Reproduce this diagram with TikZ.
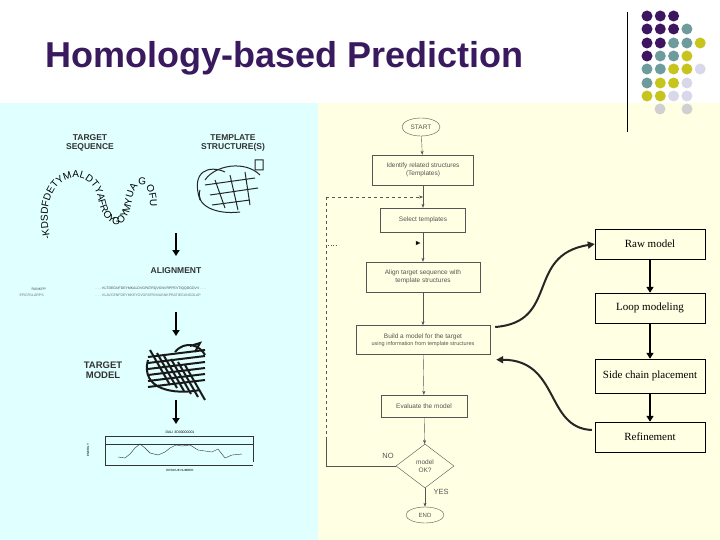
\documentclass[tikz,border=0pt]{standalone}
\usepackage{fontspec}
\setmainfont{Liberation Sans}
\newfontfamily\seriff{Liberation Serif}
\usetikzlibrary{shapes.geometric,arrows.meta,decorations.text}
\definecolor{cyanbg}{HTML}{E0FFFF}
\definecolor{yelbg}{HTML}{FFFFE3}
\definecolor{dP}{HTML}{3D1560}
\definecolor{dT}{HTML}{6E9C9C}
\definecolor{dY}{HTML}{C8C41E}
\definecolor{dL}{HTML}{D8D8EA}
\definecolor{dG}{HTML}{D0D0D0}
\definecolor{ttl}{HTML}{3A1A5E}
\definecolor{fl}{HTML}{555555}
\begin{document}
\begin{tikzpicture}[x=1pt,y=-1pt,
  fbox/.style={draw=fl,fill=yelbg,font=\fontsize{6.5}{7.5}\selectfont,text=fl,align=center,inner sep=2pt},
  rbox/.style={draw=black,fill=yelbg,minimum width=110pt,minimum height=30pt,font=\seriff\fontsize{11}{12}\selectfont},
  fl/.style={draw=fl,-{Stealth[length=4pt]}},
  bigar/.style={-{Triangle[length=6pt,width=7pt]},line width=2.5pt,draw=black},
  curv/.style={-{Triangle[length=7pt,width=7pt]},line width=2pt,draw=black!85},
  lab/.style={font=\bfseries\fontsize{8.5}{9.5}\selectfont,align=center,text=black!80}]
\useasboundingbox (0,0) rectangle (720,540);
\fill[white] (0,0) rectangle (720,540);
\fill[cyanbg] (0,103) rectangle (318,540);
\fill[yelbg] (318,103) rectangle (720,540);
\node[font=\bfseries\fontsize{36}{40}\selectfont,text=ttl,anchor=west] (title) at (42,58) {Homology-based Prediction};
\draw[black,line width=0.8pt] (627,12) -- (627,132);
% dots
\foreach \r/\cols in {16/{P,P,P},29/{P,P,P,T},43/{P,P,T,T,Y},56/{P,T,T,Y},69/{T,T,Y,Y,L},83/{T,Y,Y,L},96/{Y,Y,L,L}}{
  \foreach \c [count=\i from 0] in \cols {\fill[d\c] (647+13.3*\i,\r) circle (5.5pt);}}
\fill[dG] (660,109) circle (5.5pt); \fill[dG] (687,109) circle (5.5pt);
% flowchart
\node[ellipse,draw=fl,fill=yelbg,minimum width=38pt,minimum height=18pt,inner sep=0pt,font=\fontsize{6.5}{7}\selectfont,text=fl] (start) at (421,127) {START};
\node[fbox,minimum width=101pt,minimum height=30pt] (ident) at (423,170) {Identify related structures\\(Templates)};
\node[fbox,minimum width=85pt,minimum height=24pt] (sel) at (423,220) {Select templates};
\node[fbox,minimum width=114pt,minimum height=30pt] (align) at (423,277) {Align target sequence with\\template structures};
\node[fbox,minimum width=134pt,minimum height=29pt] (build) at (423,340) {Build a model for the target\\{\fontsize{5.5}{6.5}\selectfont using information from template structures}};
\node[fbox,minimum width=86pt,minimum height=22pt] (eval) at (424,406) {Evaluate the model};
\node[diamond,draw=fl,fill=yelbg,minimum width=58pt,minimum height=44pt,inner sep=0pt,align=center,font=\fontsize{6.5}{7.5}\selectfont,text=fl] (ok) at (425,466) {model\\OK?};
\node[ellipse,draw=fl,fill=yelbg,minimum width=38pt,minimum height=16pt,inner sep=0pt,font=\fontsize{6}{7}\selectfont,text=fl] (endn) at (425,515) {END};
\draw[fl] (start) -- (ident);
\draw[fl] (ident) -- (sel);
\draw[fl] (sel) -- (align);
\draw[fl] (align) -- (build);
\draw[fl] (build) -- (eval);
\draw[fl] (eval) -- (ok);
\draw[fl] (ok) -- (endn);
\coordinate (c1) at (326,466); \coordinate (c2) at (326,197); \coordinate (c3) at (423,197);
\coordinate (d1) at (326,245); \coordinate (d2) at (336,245);
\draw[draw=fl,line width=0.8pt] (ok.west) -- (c1) -- (326,440);
\draw[draw=fl,dashed] (326,440) -- (c2);
\draw[draw=fl,dashed,-{Stealth[length=4pt]}] (c2) -- (c3);
\draw[draw=fl,dotted] (d1) -- (d2);
\fill[fl] (416,241) -- (420,243) -- (416,245) -- cycle;
\node[font=\fontsize{7.5}{8}\selectfont,text=fl] (no) at (388,456) {NO};
\node[font=\fontsize{7.5}{8}\selectfont,text=fl] (yes) at (441,492) {YES};
% right column
\node[rbox] (raw) at (650,244) {Raw model};
\node[rbox] (loop) at (650,308) {Loop modeling};
\node[rbox,minimum height=34pt] (side) at (650,376) {Side chain placement};
\node[rbox] (ref) at (650,437) {Refinement};
\draw[bigar] (raw) -- (loop);
\draw[bigar] (loop) -- (side);
\draw[bigar] (side) -- (ref);
\draw[curv] (build.east)++(5,-13) .. controls (560,322) and (525,255) .. (raw.west);
\draw[curv] (ref.west)++(-3,-7) .. controls (545,428) and (560,360) .. ([xshift=6pt,yshift=-5pt]build.south east);
% left panel
\node[lab] (tseq) at (90,143) {TARGET\\SEQUENCE};
\node[lab] (tstr) at (233,143) {TEMPLATE\\STRUCTURE(S)};
\path[decorate,decoration={text along path,text={-KDSDFDETYMALDTYAFROYGOYMYUAGOFUGUW-},text align=center,raise=0pt}, font=\bfseries\fontsize{3.6}{4}\selectfont]
  (48,210) .. controls (52,170) and (92,168) .. (98,198) .. controls (104,232) and (128,234) .. (132,200) .. controls (135,180) and (150,178) .. (150,206);
\begin{scope}[line width=1pt,black!85]
\draw (205,185) -- (255,178) (210,195) -- (258,188) (212,205) -- (250,200) (205,180) .. controls (215,165) and (245,160) .. (260,175) (200,190) .. controls (195,205) and (215,215) .. (240,212) (215,180) -- (225,208) (230,175) -- (238,210) (245,172) -- (250,205);
\draw (200,200) .. controls (190,170) and (210,165) .. (225,172) (255,170) rectangle +(8,-10);
\end{scope}
\draw[bigar] (176,233) -- (176,256);
\node[lab] (aln) at (176,271) {ALIGNMENT};
\node[font=\fontsize{3.5}{4}\selectfont,text=black!70,anchor=west] (s1) at (28,289) {RANKPP};
\node[font=\fontsize{3.5}{4}\selectfont,text=black!70,anchor=west] (s1b) at (92,289) {. . . KLTDEGNFDEYMKALDVGPATRQVGNVRPPEVTIQQDGDVV . . .};
\node[font=\fontsize{3.5}{4}\selectfont,text=black!55,anchor=west] (s2) at (16,295) {EPICR1LARPS};
\node[font=\fontsize{3.5}{4}\selectfont,text=black!55,anchor=west] (s2b) at (92,295) {. . . KLAVCENFDEYMKEYGVGPATRNVAGNKPRATIEGUNGDLAP};
\draw[bigar] (176,312) -- (176,336);
\node[lab,font=\bfseries\fontsize{9.5}{10.5}\selectfont] (tm) at (103,370) {TARGET\\MODEL};
\begin{scope}[line width=2pt,black!90]
\foreach \k in {0,...,5}{\draw (150+7*\k,350+3*\k) -- (170+7*\k,385+3*\k); \draw (148,357+6*\k) -- (205,350+6*\k);}
\draw (148,360) .. controls (140,390) and (175,395) .. (200,390);
\draw (175,352) .. controls (185,340) and (200,345) .. (205,355) (190,346) -- (200,343) -- (195,352);
\end{scope}
\draw[bigar] (176,400) -- (176,424);
\node[font=\fontsize{3.5}{4}\selectfont] (pt) at (180,432) {DALI 3D00000001};
\draw[black!80,line width=0.5pt] (105,436) -- (253,436) -- (253,462) (105,436) -- (105,465) -- (253,465);
\draw[black!80,line width=0.5pt] (105,444) -- (253,444);
\draw[black!80,line width=0.4pt] (118,457) -- (125,458) -- (130,454) -- (135,448) -- (140,444) -- (145,448) -- (150,453) -- (158,455) -- (165,452) -- (170,448) -- (176,445) -- (182,446) -- (190,445) -- (198,450) -- (205,451) -- (212,452) -- (218,449) -- (225,458) -- (232,455) -- (242,454);
\node[font=\fontsize{3}{3}\selectfont,rotate=90] (yl) at (88,450) {ENERGY};
\node[font=\fontsize{3}{3}\selectfont] (xl) at (180,470) {RESIDUE NUMBER};
\end{tikzpicture}
\end{document}
